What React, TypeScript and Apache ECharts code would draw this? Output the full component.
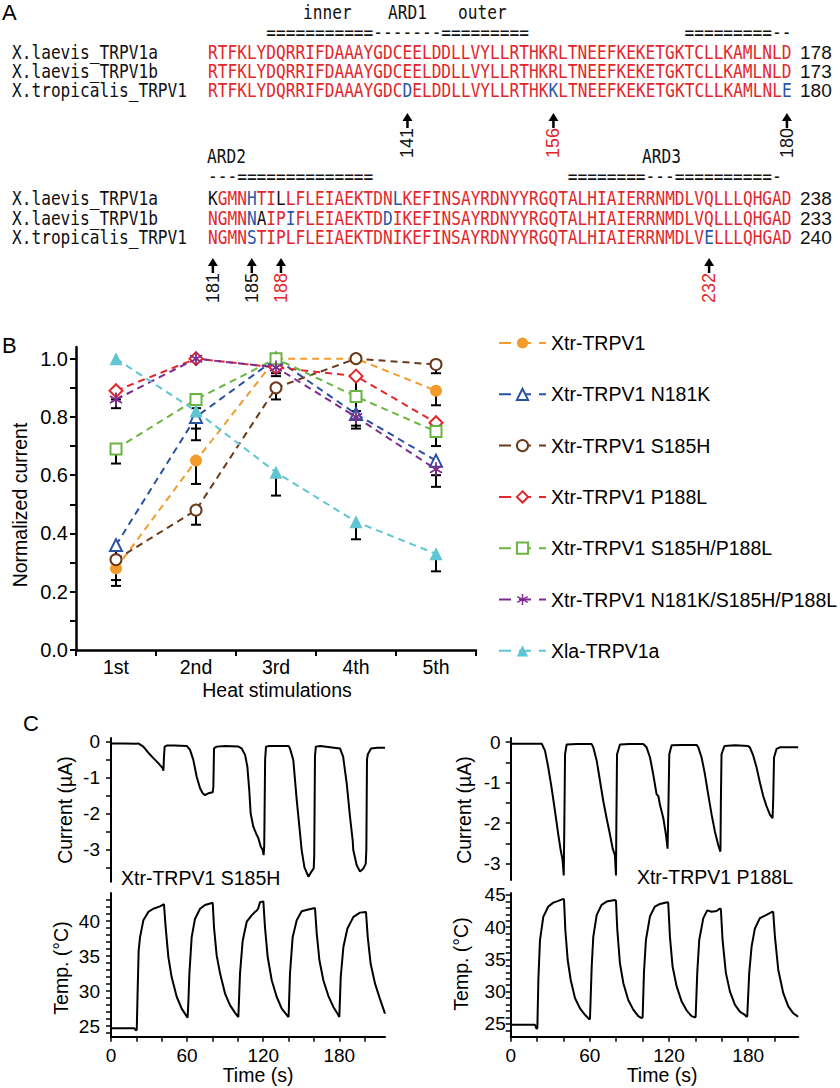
import React, { useEffect, useRef } from 'react';
import * as echarts from 'echarts';

// ---------------- colours / fonts ----------------
const RED = '#E3262B';
const BLUE = '#2A56A5';
const BLACK = '#111111';
const MONO = '"DejaVu Sans Mono", monospace';
const SANS = '"Liberation Sans", Arial, Helvetica, sans-serif';

// ---------------- Panel A : alignment ----------------
const alignNames = ['X.laevis_TRPV1a', 'X.laevis_TRPV1b', 'X.tropicalis_TRPV1'];
const alignSeq1 = [
  'RTFKLYDQRRIFDAAAYGDCEELDDLLVYLLRTHKRLTNEEFKEKETGKTCLLKAMLNLD',
  'RTFKLYDQRRIFDAAAYGDCEELDDLLVYLLRTHKRLTNEEFKEKETGKTCLLKAMLNLD',
  'RTFKLYDQRRIFDAAAYGDCDELDDLLVYLLRTHKKLTNEEFKEKETGKTCLLKAMLNLE',
];
const alignEnd1 = ['178', '173', '180'];
const alignBlue1 = [[], [], [20, 35, 59]];
const alignBlack1 = [[], [], []];
const alignSeq2 = [
  'KGMNHTILLFLEIAEKTDNLKEFINSAYRDNYYRGQTALHIAIERRNMDLVQLLLQHGAD',
  'NGMNNAIPIFLEIAEKTDDIKEFINSAYRDNYYRGQTALHIAIERRNMDLVQLLLQHGAD',
  'NGMNSTIPLFLEIAEKTDNIKEFINSAYRDNYYRGQTALHIAIERRNMDLVELLLQHGAD',
];
const alignEnd2 = ['238', '233', '240'];
const alignBlue2 = [[4, 19], [4, 8, 18], [4, 51]];
const alignBlack2 = [[0, 7], [5], []];
const ruler1 = ' '.repeat(6) + '='.repeat(11) + '-'.repeat(7) + '='.repeat(9) + ' '.repeat(16) + '='.repeat(9) + '--';
const ruler2 = '---' + '='.repeat(14) + ' '.repeat(20) + '='.repeat(8) + '---' + '='.repeat(10) + '-';
const regionLabels1 = [{ text: 'inner', x: 303 }, { text: 'ARD1', x: 388 }, { text: 'outer', x: 458 }];
const regionLabels2 = [{ text: 'ARD2', x: 207 }, { text: 'ARD3', x: 642 }];
const marks1 = [
  { pos: 20, label: '141', color: BLACK },
  { pos: 35, label: '156', color: RED },
  { pos: 59, label: '180', color: BLACK },
];
const marks2 = [
  { pos: 0, label: '181', color: BLACK },
  { pos: 4, label: '185', color: BLACK },
  { pos: 7, label: '188', color: RED },
  { pos: 51, label: '232', color: RED },
];

// ---------------- Panel B : normalized current ----------------
const stimCategories = ['1st', '2nd', '3rd', '4th', '5th'];
const bTickValues = [0, 0.1, 0.2, 0.3, 0.4, 0.5, 0.6, 0.7, 0.8, 0.9, 1.0];
const bLabelValues = [0, 0.2, 0.4, 0.6, 0.8, 1.0];
const xtrTRPV1 = [0.28, 0.65, 1.0, 1.0, 0.89];
const xtrTRPV1Low = [0.22, 0.57, 1.0, 1.0, 0.84];
const n181k = [0.36, 0.8, 1.0, 0.81, 0.65];
const n181kLow = [0.32, 0.72, 0.96, 0.77, 0.6];
const s185h = [0.31, 0.48, 0.9, 1.0, 0.98];
const s185hLow = [0.24, 0.43, 0.86, 1.0, 0.95];
const p188l = [0.89, 1.0, 0.97, 0.94, 0.78];
const p188lLow = [0.86, 1.0, 0.95, 0.88, 0.74];
const s185hP188l = [0.69, 0.86, 1.0, 0.87, 0.75];
const s185hP188lLow = [0.64, 0.83, 1.0, 0.82, 0.7];
const tripleMut = [0.86, 1.0, 0.97, 0.8, 0.62];
const tripleMutLow = [0.83, 1.0, 0.94, 0.76, 0.56];
const xlaTRPV1a = [1.0, 0.82, 0.61, 0.44, 0.33];
const xlaTRPV1aLow = [1.0, 0.76, 0.53, 0.38, 0.27];

// ---------------- Panel C : traces [time s, value] ----------------
const timeTicks = [0, 20, 40, 60, 80, 100, 120, 140, 160, 180, 200];
const timeLabels = [0, 60, 120, 180];
const currentTicksL = [0, -0.5, -1, -1.5, -2, -2.5, -3, -3.5];
const currentTicksR = [0, -0.5, -1, -1.5, -2, -2.5, -3];
const currentLabels = [0, -1, -2, -3];
const tempTicksL = [24, 25, 26, 27, 28, 29, 30, 31, 32, 33, 34, 35, 36, 37, 38, 39, 40, 41, 42, 43];
const tempLabelsL = [25, 30, 35, 40];
const tempTicksR = [24, 25, 26, 27, 28, 29, 30, 31, 32, 33, 34, 35, 36, 37, 38, 39, 40, 41, 42, 43, 44, 45];
const tempLabelsR = [25, 30, 35, 40, 45];

const currentS185H = [
  [0, -0.05], [10, -0.05], [20, -0.06], [21.5, -0.05], [25.5, -0.14], [29.4, -0.31], [33.4, -0.46], [37.3, -0.6],
  [40.7, -0.74], [41.3, -0.81], [41.8, -0.4], [42.3, -0.14], [43.9, -0.11], [50, -0.11], [59.7, -0.12],
  [62.3, -0.23], [64.9, -0.51], [67.5, -0.97], [70.2, -1.3], [72.3, -1.44], [74.1, -1.49], [76.7, -1.44],
  [80.2, -1.41], [80.7, -1.25], [81.2, -0.19], [83.3, -0.14], [90, -0.12], [100.4, -0.14], [103, -0.19],
  [105.7, -0.37], [107.5, -0.7], [109, -1.35], [110.1, -2.0], [112.2, -2.37], [114.3, -2.55], [116.2, -2.69],
  [118, -2.92], [119.6, -3.02], [120.3, -3.16], [120.8, -2.9], [121.5, -0.5], [122.2, -0.14], [125, -0.12],
  [140, -0.12], [141.1, -0.19], [143.7, -0.51], [146.4, -1.62], [149, -2.55], [150.3, -3.02], [152.5, -3.5],
  [155.6, -3.76], [158, -3.62], [159.8, -3.53], [160.2, -3.2], [160.8, -0.4], [161.5, -0.14], [165, -0.12],
  [180.5, -0.19], [183, -0.42], [185.8, -1.16], [188.4, -2.09], [190.5, -2.74], [191, -3.02], [193.7, -3.44],
  [196.3, -3.62], [199, -3.53], [200.8, -3.4], [201.3, -3.0], [201.8, -0.5], [202.5, -0.35], [205, -0.19],
  [210, -0.17], [216, -0.17],
];
const tempS185H = [
  [0, 24.7], [10, 24.7], [18.4, 24.7], [19.6, 24.4], [20.3, 24.5], [21, 30], [21.8, 35.8], [22.9, 37.7],
  [25.5, 40.1], [29.4, 41.3], [33.4, 41.75], [38.6, 42.1], [41.8, 42.4], [42.1, 41.5], [43.1, 39.1],
  [45.2, 34.9], [47.8, 32.0], [51.8, 29.2], [55.7, 27.5], [59.7, 26.4], [60.4, 26.2], [61, 28.5], [61.8, 32.5],
  [63.6, 37.7], [66.2, 40.3], [70.2, 41.75], [74.1, 42.3], [80.2, 42.6], [81.2, 39.1], [83.3, 35.1], [86, 32.5],
  [89.9, 29.65], [93.8, 28.0], [97.8, 26.9], [100.4, 26.3], [101.7, 32.5], [103.8, 37.2], [107, 39.9],
  [110.9, 40.8], [113.5, 41.3], [115, 41.5], [116, 41.8], [117.5, 42.7], [120.1, 42.8], [121.4, 39.1],
  [123.5, 34.9], [126.7, 31.55], [130.6, 29.2], [134.6, 27.5], [138.5, 26.6], [140, 26.3], [141.1, 32.5],
  [143.2, 37.7], [146.4, 40.1], [150.3, 41.4], [155.6, 41.65], [160.8, 41.85], [162.2, 38.2], [164.3, 34.4],
  [167.4, 31.55], [171.4, 29.3], [175.3, 27.75], [179.2, 26.6], [180, 26.3], [181.1, 32.0], [183.2, 36.3],
  [186.3, 38.9], [191.1, 40.6], [196.3, 41.2], [201, 41.3], [202.4, 37.7], [204.7, 33.9], [208.1, 31.1],
  [212, 28.9], [216, 26.8],
];
const currentP188L = [
  [0, -0.04], [10, -0.04], [23.5, -0.04], [26, -0.21], [28.5, -0.63], [31, -1.13], [33.6, -1.71], [36.1, -2.29],
  [37.9, -2.67], [39.3, -2.9], [40.2, -3.29], [40.6, -2.2], [41.2, -0.3], [42.4, -0.06], [50, -0.05],
  [61.4, -0.05], [62.6, -0.13], [65.2, -0.46], [67.7, -0.96], [70.2, -1.46], [72.7, -1.88], [75.3, -2.29],
  [77.3, -2.63], [79, -2.79], [79.8, -3.29], [80.1, -2.0], [80.6, -0.3], [82.8, -0.06], [90, -0.05],
  [100.5, -0.05], [103, -0.13], [105.6, -0.38], [108, -0.79], [110.6, -1.29], [111.9, -1.33], [113.1, -1.54],
  [115.7, -1.88], [117.7, -2.29], [118.9, -2.63], [119.3, -2.63], [119.6, -1.5], [120.2, -0.3], [122, -0.08],
  [130, -0.07], [140.9, -0.07], [142.2, -0.13], [144.7, -0.38], [147.2, -0.79], [149.7, -1.29], [152.3, -1.79],
  [154.8, -2.21], [157.3, -2.54], [158.6, -2.67], [159, -2.7], [159.3, -1.5], [159.8, -0.3], [162, -0.1],
  [170, -0.08], [180, -0.1], [181.3, -0.13], [183.8, -0.33], [186.4, -0.63], [188.9, -1.0], [191.4, -1.33],
  [193.9, -1.58], [196.5, -1.79], [198.5, -1.88], [199, -1.4], [199.6, -0.38], [201.5, -0.17], [204, -0.13],
  [217.9, -0.13],
];
const tempP188L = [
  [0, 24.85], [10, 24.85], [18.4, 24.85], [19.7, 24.2], [20.2, 24.4], [21, 32], [22.2, 38.0], [24.7, 41.6],
  [28.5, 43.2], [32.3, 43.8], [36.1, 44.07], [39.9, 44.38], [40.4, 44.3], [41.4, 39.6], [43.2, 34.9],
  [45.5, 31.8], [48.7, 29.0], [52.5, 27.4], [56.3, 26.4], [59.6, 25.7], [60.1, 25.8], [61.4, 33.9], [62.6, 38.5],
  [65.2, 41.9], [68.9, 43.45], [72.7, 43.97], [79, 44.22], [79.8, 44.1], [80.8, 39.6], [82.8, 34.4], [85.4, 31.3],
  [89.1, 28.7], [92.9, 27.2], [96.7, 26.2], [99.2, 25.9], [100, 26.0], [101, 32.9], [102.5, 38.0], [105.6, 41.7],
  [109.3, 43.2], [113.1, 43.6], [118.7, 43.86], [119.4, 43.8], [120.7, 38.5], [122.7, 33.9], [125.8, 30.8],
  [129.5, 28.5], [133.3, 27.1], [137.1, 26.2], [139.6, 26.0], [140.2, 26.1], [141.4, 32.9], [142.9, 38.0],
  [146, 41.4], [149, 42.6], [152.3, 42.4], [156.1, 42.5], [158.6, 42.9], [159.3, 42.8], [160.6, 38.0],
  [163.1, 32.9], [166.2, 30.0], [170, 27.95], [173.7, 26.9], [177.5, 26.4], [178.8, 26.1], [179.3, 26.2],
  [180.8, 32.9], [182.6, 37.0], [185.1, 39.8], [188.9, 41.4], [193.9, 41.9], [198.5, 42.4], [199, 42.3],
  [200.3, 38.5], [202.8, 33.4], [206.6, 29.75], [210.4, 27.7], [214.1, 26.65], [217.9, 26.1],
];

// ---------------- layout constants ----------------
const SEQ_X = 208;
const CHAR_W = 9.73;
const NAME_X = 12;
const END_X = 800;
const MONO_SIZE = 20;
const MONO_SCALE = CHAR_W / (0.6021 * MONO_SIZE);
const rowsY1 = [52, 71, 90];
const rowsY2 = [198, 218, 237];

function richSeq(seq: string, blue: number[], black: number[]) {
  let out = '';
  let cur = '';
  let key = '';
  for (let i = 0; i < seq.length; i++) {
    const k = blue.includes(i) ? 'b' : black.includes(i) ? 'k' : 'r';
    if (k !== key) {
      if (cur) out += `{${key}|${cur}}`;
      cur = '';
      key = k;
    }
    cur += seq[i];
  }
  if (cur) out += `{${key}|${cur}}`;
  return out;
}

const tok = (fill: string) => ({ fill, fontFamily: MONO, fontSize: MONO_SIZE });

function monoText(text: string, x: number, y: number, fill = BLACK) {
  return {
    type: 'text', x, y, scaleX: MONO_SCALE, silent: true,
    style: { text, fill, fontFamily: MONO, fontSize: MONO_SIZE, align: 'left', verticalAlign: 'middle' },
  };
}

function buildBlock(seqs: string[], ends: string[], blues: number[][], blacks: number[][], rowsY: number[],
  ruler: string, rulerY: number, labels: { text: string; x: number }[], labelY: number,
  marks: { pos: number; label: string; color: string }[], arrowTop: number, numY: number) {
  const els: any[] = [];
  labels.forEach((l) => els.push(monoText(l.text, l.x, labelY)));
  els.push(monoText(ruler, SEQ_X, rulerY));
  seqs.forEach((s, i) => {
    els.push(monoText(alignNames[i], NAME_X, rowsY[i]));
    els.push({
      type: 'text', x: SEQ_X, y: rowsY[i], scaleX: MONO_SCALE, silent: true,
      style: {
        text: richSeq(s, blues[i], blacks[i]), fontFamily: MONO, fontSize: MONO_SIZE,
        align: 'left', verticalAlign: 'middle',
        rich: { r: tok(RED), b: tok(BLUE), k: tok(BLACK) },
      },
    });
    els.push({
      type: 'text', x: END_X, y: rowsY[i], silent: true,
      style: { text: ends[i], fill: BLACK, fontFamily: SANS, fontSize: 19, align: 'left', verticalAlign: 'middle' },
    });
  });
  marks.forEach((m) => {
    const cx = SEQ_X + (m.pos + 0.5) * CHAR_W;
    els.push({
      type: 'group', x: cx, y: arrowTop, silent: true,
      children: [
        { type: 'polygon', shape: { points: [[-5, 8], [0, 0], [5, 8]] }, style: { fill: '#000' } },
        { type: 'line', shape: { x1: 0, y1: 6, x2: 0, y2: 15 }, style: { stroke: '#000', lineWidth: 2.5 } },
      ],
    });
    els.push({
      type: 'text', x: cx, y: numY, rotation: Math.PI / 2, silent: true,
      style: { text: m.label, fill: m.color, fontFamily: SANS, fontSize: 18, align: 'center', verticalAlign: 'middle' },
    });
  });
  return els;
}

function asteriskPath() {
  const L = 10;
  const w = 1.25;
  const c = 12;
  let d = '';
  [90, 30, 150].forEach((a) => {
    const r = (a * Math.PI) / 180;
    const dx = Math.cos(r);
    const dy = Math.sin(r);
    const nx = -dy;
    const ny = dx;
    const pts = [
      [c + L * dx + w * nx, c + L * dy + w * ny],
      [c - L * dx + w * nx, c - L * dy + w * ny],
      [c - L * dx - w * nx, c - L * dy - w * ny],
      [c + L * dx - w * nx, c + L * dy - w * ny],
    ];
    d += 'M' + pts.map((p) => p[0].toFixed(2) + ',' + p[1].toFixed(2)).join('L') + 'Z';
  });
  return 'path://' + d;
}

const bSeriesDefs = [
  { name: 'Xtr-TRPV1', values: xtrTRPV1, low: xtrTRPV1Low, color: '#F39C2C', symbol: 'circle', size: 12, bw: 0 },
  { name: 'Xtr-TRPV1 N181K', values: n181k, low: n181kLow, color: '#2A52A3', symbol: 'emptyTriangle', size: 12, bw: 2 },
  { name: 'Xtr-TRPV1 S185H', values: s185h, low: s185hLow, color: '#6B3A1B', symbol: 'emptyCircle', size: 11, bw: 2 },
  { name: 'Xtr-TRPV1 P188L', values: p188l, low: p188lLow, color: '#E4262A', symbol: 'emptyDiamond', size: 13, bw: 2 },
  { name: 'Xtr-TRPV1 S185H/P188L', values: s185hP188l, low: s185hP188lLow, color: '#6AB542', symbol: 'emptyRect', size: 11, bw: 2 },
  { name: 'Xtr-TRPV1 N181K/S185H/P188L', values: tripleMut, low: tripleMutLow, color: '#7D2B8D', symbol: asteriskPath(), size: 14, bw: 0 },
  { name: 'Xla-TRPV1a', values: xlaTRPV1a, low: xlaTRPV1aLow, color: '#5EC5D3', symbol: 'triangle', size: 13, bw: 0 },
];

const AX = '#000';

function cAxisX(gridIndex: number, max: number, show: boolean) {
  return {
    type: 'value', gridIndex, min: 0, max, show,
    axisLine: { show, lineStyle: { color: AX, width: 2 } },
    axisTick: { show, length: 5, lineStyle: { color: AX, width: 1.5 }, customValues: timeTicks },
    axisLabel: { show, customValues: timeLabels, color: AX, fontSize: 19, fontFamily: SANS, margin: 9 },
    splitLine: { show: false },
  };
}

function cAxisY(gridIndex: number, min: number, max: number, ticks: number[], labels: number[], margin: number) {
  return {
    type: 'value', gridIndex, min, max,
    axisLine: { show: true, onZero: false, lineStyle: { color: AX, width: 2 } },
    axisTick: { show: true, length: 5, lineStyle: { color: AX, width: 1.5 }, customValues: ticks },
    axisLabel: { show: true, customValues: labels, color: AX, fontSize: 19, fontFamily: SANS, margin, formatter: (v: number) => String(v) },
    splitLine: { show: false },
  };
}

function traceSeries(data: number[][], axisIndex: number) {
  return {
    type: 'line', data, xAxisIndex: axisIndex, yAxisIndex: axisIndex, showSymbol: false, symbol: 'none',
    lineStyle: { color: '#000', width: 2 }, clip: false, silent: true,
  };
}

function plainText(text: string, x: number, y: number, size: number, opts: any = {}) {
  return {
    type: 'text', x, y, rotation: opts.rotation || 0, silent: true,
    style: { text, fill: opts.fill || '#000', fontFamily: SANS, fontSize: size, align: opts.align || 'center', verticalAlign: 'middle' },
  };
}

export default function App() {
  const ref = useRef<HTMLDivElement>(null);
  useEffect(() => {
    if (!ref.current) return;
    const chart = echarts.init(ref.current, undefined, { renderer: 'svg' });

    const errData: number[][] = [];
    bSeriesDefs.forEach((s) => s.values.forEach((v, i) => { if (s.low[i] < v) errData.push([i, v, s.low[i]]); }));

    const graphics: any[] = [
      plainText('A', 2, 12, 22, { align: 'left' }),
      plainText('B', 2, 345, 22, { align: 'left' }),
      plainText('C', 23, 723, 22, { align: 'left' }),
      ...buildBlock(alignSeq1, alignEnd1, alignBlue1, alignBlack1, rowsY1, ruler1, 32, regionLabels1, 12, marks1, 113, 143),
      ...buildBlock(alignSeq2, alignEnd2, alignBlue2, alignBlack2, rowsY2, ruler2, 176, regionLabels2, 156, marks2, 258, 288),
      plainText('Normalized current', 20, 505, 19.5, { rotation: Math.PI / 2 }),
      plainText('Heat stimulations', 277, 690, 19.5),
      plainText('Current (µA)', 65, 810, 19.5, { rotation: Math.PI / 2 }),
      plainText('Temp. (°C)', 61, 968, 19.5, { rotation: Math.PI / 2 }),
      plainText('Time (s)', 258, 1075, 19.5),
      plainText('Xtr-TRPV1 S185H', 121, 878, 19.5, { align: 'left' }),
      plainText('Current (µA)', 464, 810, 19.5, { rotation: Math.PI / 2 }),
      plainText('Temp. (°C)', 461, 964, 19.5, { rotation: Math.PI / 2 }),
      plainText('Time (s)', 662, 1075, 19.5),
      plainText('Xtr-TRPV1 P188L', 793, 877, 19.5, { align: 'right' }),
    ];

    const option: any = {
      animation: false,
      backgroundColor: '#fff',
      grid: [
        { left: 76, top: 347, width: 400, height: 303, outerBoundsMode: 'none' },
        { left: 111, top: 738, width: 274, height: 143.7, outerBoundsMode: 'none' },
        { left: 111, top: 893, width: 274, height: 143.7, outerBoundsMode: 'none' },
        { left: 510.7, top: 738, width: 287.6, height: 141.9, outerBoundsMode: 'none' },
        { left: 510.7, top: 893, width: 287.6, height: 143.7, outerBoundsMode: 'none' },
      ],
      xAxis: [
        {
          type: 'category', gridIndex: 0, data: stimCategories, boundaryGap: true,
          axisLine: { show: true, lineStyle: { color: AX, width: 2.5 } },
          axisTick: { show: true, length: 6, lineStyle: { color: AX, width: 2 } },
          axisLabel: { color: AX, fontSize: 19.5, fontFamily: SANS, margin: 7 },
          splitLine: { show: false },
        },
        cAxisX(1, 216, false),
        cAxisX(2, 216, true),
        cAxisX(3, 218, false),
        cAxisX(4, 218, true),
      ],
      yAxis: [
        {
          type: 'value', gridIndex: 0, min: 0, max: 1.04,
          axisLine: { show: true, lineStyle: { color: AX, width: 2.5 } },
          axisTick: { show: true, length: 6, lineStyle: { color: AX, width: 2 }, customValues: bTickValues },
          axisLabel: { show: true, customValues: bLabelValues, color: AX, fontSize: 20, fontFamily: SANS, margin: 8, formatter: (v: number) => v.toFixed(1) },
          splitLine: { show: false },
        },
        cAxisY(1, -3.9, 0.1, currentTicksL, currentLabels, 11),
        cAxisY(2, 23.5, 44, tempTicksL, tempLabelsL, 11),
        cAxisY(3, -3.4, 0.1, currentTicksR, currentLabels, 10),
        cAxisY(4, 23, 45.3, tempTicksR, tempLabelsR, 5),
      ],
      legend: {
        orient: 'vertical', left: 498, top: 333, itemWidth: 47, itemHeight: 14, itemGap: 31.3, padding: 0,
        selectedMode: false,
        lineStyle: { type: [12, 8] },
        textStyle: { fontSize: 19.5, fontFamily: SANS, color: '#000', lineHeight: 20 },
        data: bSeriesDefs.map((s) => s.name),
      },
      series: [
        {
          type: 'custom', name: 'error', xAxisIndex: 0, yAxisIndex: 0, data: errData, z: 1, silent: true,
          encode: { x: 0, y: [1, 2] },
          renderItem: (_p: any, api: any) => {
            const a = api.coord([api.value(0), api.value(1)]);
            const b = api.coord([api.value(0), api.value(2)]);
            return {
              type: 'group',
              children: [
                { type: 'line', shape: { x1: a[0], y1: a[1], x2: b[0], y2: b[1] }, style: { stroke: '#000', lineWidth: 2 } },
                { type: 'line', shape: { x1: b[0] - 5, y1: b[1], x2: b[0] + 5, y2: b[1] }, style: { stroke: '#000', lineWidth: 2 } },
              ],
            };
          },
        },
        ...bSeriesDefs.map((s) => ({
          type: 'line', name: s.name, data: s.values, xAxisIndex: 0, yAxisIndex: 0,
          symbol: s.symbol, symbolSize: s.size, symbolKeepAspect: true, showSymbol: true, clip: false, z: 3,
          lineStyle: { color: s.color, width: 2, type: [7, 5] },
          itemStyle: { color: s.color, borderColor: s.color, borderWidth: s.bw },
        })),
        traceSeries(currentS185H, 1),
        traceSeries(tempS185H, 2),
        traceSeries(currentP188L, 3),
        traceSeries(tempP188L, 4),
      ],
      graphic: { elements: graphics },
    };
    chart.setOption(option);
    return () => chart.dispose();
  }, []);
  return <div ref={ref} style={{ position: 'absolute', left: 0, top: 0, width: 840, height: 1088, background: '#fff' }} />;
}
